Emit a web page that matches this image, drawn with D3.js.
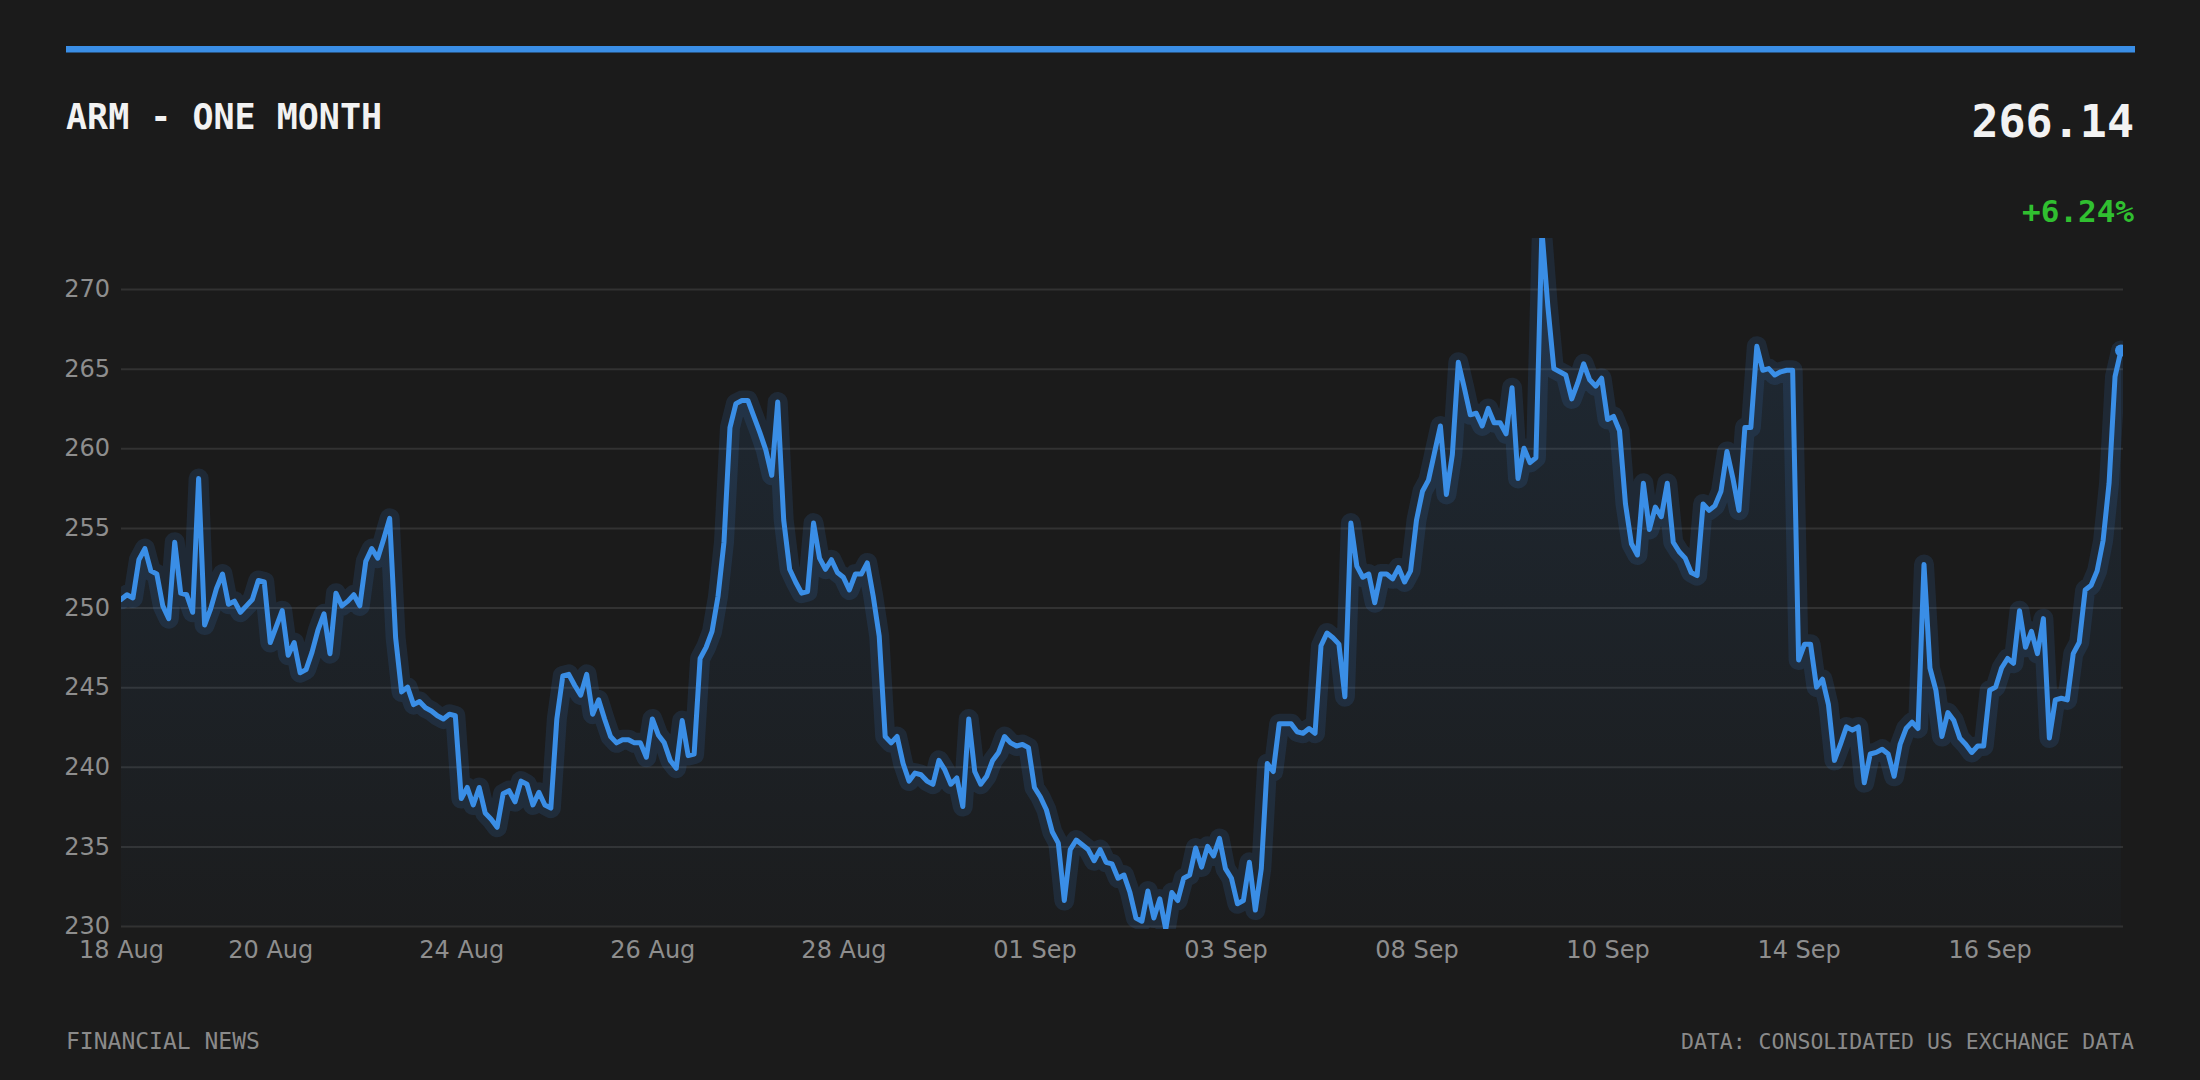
<!DOCTYPE html>
<html>
<head>
<meta charset="utf-8">
<script src="https://cdn.jsdelivr.net/npm/d3@7"></script>
<style>
  html, body { margin: 0; padding: 0; background: #1b1b1b; }
  svg { display: block; }
</style>
</head>
<body>
<svg id="chart"></svg>
<script>
// Header / footer text
const title = 'ARM - ONE MONTH'
const lastPrice = '266.14'
const changeText = '+6.24%'
const sourceLeft = 'FINANCIAL NEWS'
const sourceRight = 'DATA: CONSOLIDATED US EXCHANGE DATA'

// x axis ticks (point index -> label)
const tickIndex = [0, 25, 57, 89, 121, 153, 185, 217, 249, 281, 313]
const tickLabels = ['18 Aug', '20 Aug', '24 Aug', '26 Aug', '28 Aug', '01 Sep', '03 Sep', '08 Sep', '10 Sep', '14 Sep', '16 Sep']

// y axis ticks
const yTicks = [230, 235, 240, 245, 250, 255, 260, 265, 270]

// price series
const prices = [
  250.5, 250.8, 250.6, 253.0, 253.7, 252.3, 252.1, 250.1, 249.3, 254.1,
  250.9, 250.8, 249.7, 258.1, 248.9, 249.9, 251.2, 252.1, 250.2, 250.4,
  249.7, 250.1, 250.5, 251.7, 251.6, 247.8, 248.8, 249.8, 247.0, 247.8,
  245.9, 246.1, 247.2, 248.6, 249.6, 247.1, 250.9, 250.1, 250.4, 250.8,
  250.1, 252.9, 253.7, 253.1, 254.3, 255.6, 248.1, 244.7, 245.0, 243.9,
  244.1, 243.7, 243.5, 243.2, 243.0, 243.3, 243.2, 238.0, 238.7, 237.6,
  238.7, 237.1, 236.7, 236.2, 238.3, 238.5, 237.8, 239.1, 238.9, 237.6,
  238.4, 237.6, 237.4, 243.0, 245.7, 245.8, 245.1, 244.5, 245.8, 243.3,
  244.2, 243.0, 241.9, 241.5, 241.7, 241.7, 241.5, 241.5, 240.6, 243.0,
  242.0, 241.5, 240.4, 239.9, 242.9, 240.7, 240.8, 246.8, 247.5, 248.5,
  250.7, 254.1, 261.3, 262.8, 263.0, 263.0, 262.0, 261.0, 259.9, 258.3,
  262.9, 255.5, 252.4, 251.6, 250.9, 251.0, 255.3, 253.1, 252.4, 253.0,
  252.2, 251.9, 251.1, 252.1, 252.1, 252.8, 250.7, 248.2, 241.9, 241.5,
  241.9, 240.2, 239.1, 239.6, 239.5, 239.1, 238.9, 240.4, 239.8, 238.9,
  239.3, 237.5, 243.0, 239.7, 238.9, 239.4, 240.4, 240.9, 241.9, 241.5,
  241.3, 241.4, 241.2, 238.7, 238.1, 237.3, 235.9, 235.2, 231.6, 234.8,
  235.4, 235.1, 234.8, 234.1, 234.8, 234.0, 233.9, 233.0, 233.2, 232.1,
  230.5, 230.3, 232.2, 230.5, 231.7, 229.8, 232.1, 231.6, 233.0, 233.2,
  234.9, 233.7, 235.0, 234.4, 235.5, 233.6, 233.0, 231.4, 231.6, 234.0,
  231.0, 233.6, 240.2, 239.7, 242.7, 242.7, 242.7, 242.2, 242.1, 242.4,
  242.1, 247.6, 248.4, 248.1, 247.7, 244.4, 255.3, 252.6, 251.9, 252.1,
  250.3, 252.1, 252.1, 251.8, 252.5, 251.6, 252.3, 255.5, 257.3, 258.0,
  259.7, 261.4, 257.1, 259.6, 265.4, 263.8, 262.1, 262.2, 261.4, 262.5,
  261.6, 261.6, 260.9, 263.8, 258.1, 260.0, 259.1, 259.4, 273.7, 268.9,
  265.0, 264.8, 264.6, 263.1, 264.1, 265.3, 264.3, 263.9, 264.4, 261.8,
  262.0, 261.1, 256.5, 254.0, 253.3, 257.8, 254.9, 256.3, 255.7, 257.8,
  254.1, 253.5, 253.1, 252.2, 252.0, 256.5, 256.1, 256.4, 257.3, 259.8,
  258.1, 256.1, 261.3, 261.3, 266.4, 264.9, 265.0, 264.6, 264.8, 264.9,
  264.9, 246.7, 247.7, 247.7, 245.0, 245.5, 243.9, 240.4, 241.4, 242.5,
  242.3, 242.5, 239.0, 240.8, 240.9, 241.1, 240.8, 239.4, 241.4, 242.4,
  242.8, 242.4, 252.7, 246.2, 244.8, 241.9, 243.4, 242.9, 241.8, 241.4,
  240.9, 241.3, 241.3, 244.8, 245.0, 246.2, 246.8, 246.5, 249.8, 247.5,
  248.5, 247.1, 249.3, 241.8, 244.2, 244.3, 244.2, 247.1, 247.8, 251.1,
  251.4, 252.3, 254.2, 257.8, 264.5, 266.14
]

const width = 2200
const height = 1080
const margin = { left: 121, right: 79, top: 289, bottom: 154 }
const blue = '#3a8ee6'
const monoFont = '"DejaVu Sans Mono", monospace'
const sansFont = '"DejaVu Sans", sans-serif'

const svg = d3.select('#chart')
  .attr('width', width)
  .attr('height', height)

svg.append('rect')
  .attr('width', width).attr('height', height)
  .attr('fill', '#1b1b1b')

const x = d3.scaleLinear()
  .domain([0, prices.length - 1])
  .range([margin.left, width - margin.right])

const y = d3.scaleLinear()
  .domain([230, 270])
  .range([height - margin.bottom, margin.top])

// Top accent bar
svg.append('rect')
  .attr('x', 66).attr('y', 46)
  .attr('width', 2135 - 66).attr('height', 6.5)
  .attr('fill', blue)

// Header
svg.append('text')
  .attr('x', 66).attr('y', 129)
  .attr('font-family', monoFont)
  .attr('font-weight', 'bold')
  .attr('font-size', '35px')
  .attr('fill', '#f2f2f2')
  .text(title)

svg.append('text')
  .attr('x', 2134).attr('y', 137)
  .attr('text-anchor', 'end')
  .attr('font-family', monoFont)
  .attr('font-weight', 'bold')
  .attr('font-size', '45px')
  .attr('fill', '#f2f2f2')
  .text(lastPrice)

svg.append('text')
  .attr('x', 2134).attr('y', 222)
  .attr('text-anchor', 'end')
  .attr('font-family', monoFont)
  .attr('font-weight', 'bold')
  .attr('font-size', '31px')
  .attr('fill', '#30bf30')
  .text(changeText)

// Gradient for the area fill
const defs = svg.append('defs')
const grad = defs.append('linearGradient')
  .attr('id', 'areaFill')
  .attr('gradientUnits', 'userSpaceOnUse')
  .attr('x1', 0).attr('y1', 238)
  .attr('x2', 0).attr('y2', y(230))
grad.append('stop').attr('offset', '0%').attr('stop-color', blue).attr('stop-opacity', 0.13)
grad.append('stop').attr('offset', '100%').attr('stop-color', blue).attr('stop-opacity', 0.015)

// plot area clip (the line is cut at the top of the panel)
defs.append('clipPath').attr('id', 'plotClip')
  .append('rect')
  .attr('x', margin.left).attr('y', 238)
  .attr('width', width - margin.right - margin.left + 2)
  .attr('height', y(230) + 3 - 238)

// Y gridlines + labels
const yAxis = svg.append('g')
  .attr('transform', `translate(${margin.left},0)`)
  .call(d3.axisLeft(y)
    .tickValues(yTicks)
    .tickSize(-(width - margin.left - margin.right + 2))
    .tickPadding(11)
    .tickFormat(d3.format('d')))
yAxis.select('.domain').remove()
yAxis.selectAll('line')
  .attr('stroke', '#323232')
  .attr('stroke-width', 2)
yAxis.selectAll('text')
  .attr('font-family', sansFont)
  .attr('font-size', '24px')
  .attr('fill', '#8e8e8e')

// X axis labels
const xAxis = svg.append('g')
  .attr('transform', `translate(0,${y(230)})`)
  .call(d3.axisBottom(x)
    .tickValues(tickIndex)
    .tickSize(0)
    .tickPadding(15)
    .tickFormat((d, i) => tickLabels[i]))
xAxis.select('.domain').remove()
xAxis.selectAll('text')
  .attr('font-family', sansFont)
  .attr('font-size', '24px')
  .attr('fill', '#8e8e8e')

// Area, glow and line
const plot = svg.append('g').attr('clip-path', 'url(#plotClip)')

const area = d3.area()
  .x((d, i) => x(i))
  .y0(y(230))
  .y1(d => y(d))

const line = d3.line()
  .x((d, i) => x(i))
  .y(d => y(d))

plot.append('path')
  .datum(prices)
  .attr('d', area)
  .attr('fill', 'url(#areaFill)')

plot.append('path')
  .datum(prices)
  .attr('d', line)
  .attr('fill', 'none')
  .attr('stroke', blue)
  .attr('stroke-opacity', 0.13)
  .attr('stroke-width', 20)
  .attr('stroke-linejoin', 'round')
  .attr('stroke-linecap', 'round')

plot.append('path')
  .datum(prices)
  .attr('d', line)
  .attr('fill', 'none')
  .attr('stroke', blue)
  .attr('stroke-width', 5)
  .attr('stroke-linejoin', 'round')
  .attr('stroke-linecap', 'round')

// Last point marker
const lastIdx = prices.length - 1
plot.append('circle')
  .attr('cx', x(lastIdx)).attr('cy', y(prices[lastIdx]))
  .attr('r', 6)
  .attr('fill', blue)

// Footer
svg.append('text')
  .attr('x', 66).attr('y', 1049)
  .attr('font-family', monoFont)
  .attr('font-size', '23px')
  .attr('fill', '#8a8a8a')
  .text(sourceLeft)

svg.append('text')
  .attr('x', 2134).attr('y', 1049)
  .attr('text-anchor', 'end')
  .attr('font-family', monoFont)
  .attr('font-size', '21.5px')
  .attr('fill', '#8a8a8a')
  .text(sourceRight)
</script>
</body>
</html>
